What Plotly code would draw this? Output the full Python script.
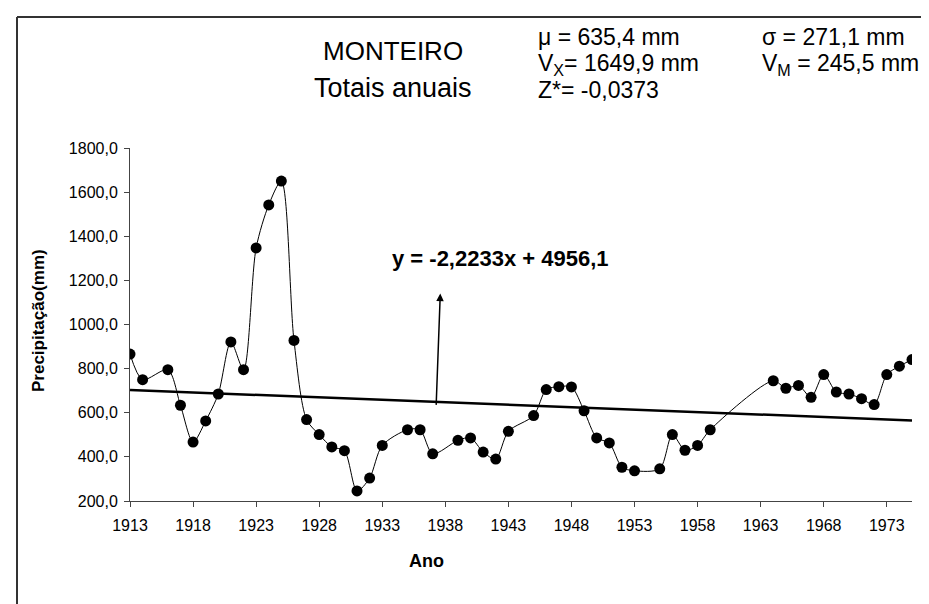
import plotly.graph_objects as go

years = [1913, 1914, 1916, 1917, 1918, 1919, 1920, 1921, 1922, 1923, 1924, 1925, 1926,
         1927, 1928, 1929, 1930, 1931, 1932, 1933, 1935, 1936, 1937, 1939, 1940, 1941,
         1942, 1943, 1945, 1946, 1947, 1948, 1949, 1950, 1951, 1952, 1953, 1955, 1956,
         1957, 1958, 1959, 1964, 1965, 1966, 1967, 1968, 1969, 1970, 1971, 1972, 1973,
         1974, 1975]
precip = [866, 750, 795, 634, 467, 563, 685, 921, 795, 1347, 1542, 1649.9, 928,
          569, 501, 445, 428, 245.5, 304, 452, 523, 523, 414, 475, 486, 422,
          390, 516, 587, 705, 718, 717, 609, 486, 463, 353, 337, 346, 501,
          430, 452, 523, 745, 711, 724, 670, 773, 694, 685, 664, 637, 773,
          811, 841]

trend_slope = -2.2233
trend_intercept = 4956.1
trend_years = [1913, 1975]
trend_vals = [trend_slope * x + trend_intercept for x in trend_years]

x_tickvals = [1913, 1918, 1923, 1928, 1933, 1938, 1943, 1948, 1953, 1958, 1963, 1968, 1973]
x_ticktext = [str(v) for v in x_tickvals]
y_tickvals = [200, 400, 600, 800, 1000, 1200, 1400, 1600, 1800]
y_ticktext = ["200,0", "400,0", "600,0", "800,0", "1000,0", "1200,0", "1400,0", "1600,0", "1800,0"]

W, H = 929, 604
L, R, T, B = 122, 25, 140, 111
PW, PH = W - L - R, H - T - B
FONT = "Liberation Sans, Arial, sans-serif"


def px(x):
    return (x - L) / PW


def py(y):
    return (H - B - y) / PH


fig = go.Figure()
fig.add_trace(go.Scatter(
    x=trend_years, y=trend_vals, mode="lines",
    line=dict(color="black", width=2.5), hoverinfo="skip", showlegend=False))
fig.add_trace(go.Scatter(
    x=years, y=precip, mode="lines+markers",
    line=dict(color="black", width=1, shape="spline", smoothing=0.8),
    marker=dict(color="black", size=11), showlegend=False))

ann = []


def txt(x, y, s, size, bold=False, xanchor="center"):
    ann.append(dict(xref="paper", yref="paper", x=px(x), y=py(y), text=(f"<b>{s}</b>" if bold else s),
                    showarrow=False, xanchor=xanchor, yanchor="middle",
                    font=dict(family=FONT, size=size, color="black")))


txt(385, 43, "MONTEIRO", 26)
txt(385, 80, "Totais anuais", 27)
txt(528, 29, "μ = 635,4 mm", 23, xanchor="left")
txt(752, 29, "σ = 271,1 mm", 23, xanchor="left")
txt(528, 56, "V<sub>X</sub>= 1649,9 mm", 23, xanchor="left")
txt(752, 56, "V<sub>M</sub> = 245,5 mm", 23, xanchor="left")
txt(528, 82, "Z*= -0,0373", 23, xanchor="left")
txt(492, 250, "y = -2,2233x + 4956,1", 22, bold=True)
txt(418, 553, "Ano", 18, bold=True)
ann.append(dict(xref="paper", yref="paper", x=px(30), y=py(313), text="<b>Precipitação(mm)</b>",
                showarrow=False, textangle=-90, xanchor="center", yanchor="middle",
                font=dict(family=FONT, size=17, color="black")))
ann.append(dict(x=1937.6, y=1140, xref="x", yref="y", ax=1937.27, ay=629, axref="x", ayref="y",
                text="", showarrow=True, arrowhead=2, arrowsize=1, arrowwidth=1.5, arrowcolor="black"))

shapes = [
    dict(type="line", xref="paper", yref="paper", x0=px(9), x1=px(940), y0=py(9), y1=py(9),
         line=dict(color="#333333", width=2)),
    dict(type="line", xref="paper", yref="paper", x0=px(9), x1=px(9), y0=py(9), y1=py(620),
         line=dict(color="#333333", width=2)),
]

fig.update_layout(
    width=W, height=H, margin=dict(l=L, r=R, t=T, b=B),
    paper_bgcolor="white", plot_bgcolor="white",
    font=dict(family=FONT, size=16, color="black"),
    annotations=ann, shapes=shapes,
    xaxis=dict(range=[1913, 1975], tickvals=x_tickvals, ticktext=x_ticktext,
               showgrid=False, zeroline=False, showline=True, linecolor="#444", linewidth=1,
               ticks="outside", ticklen=5, tickcolor="#444", tickfont=dict(size=16),
               ticklabelstandoff=5),
    yaxis=dict(range=[200, 1800], tickvals=y_tickvals, ticktext=y_ticktext,
               showgrid=False, zeroline=False, showline=True, linecolor="#444", linewidth=1,
               ticks="outside", ticklen=5, tickcolor="#444", tickfont=dict(size=16),
               ticklabelstandoff=3),
)

fig.write_html("out.html")
